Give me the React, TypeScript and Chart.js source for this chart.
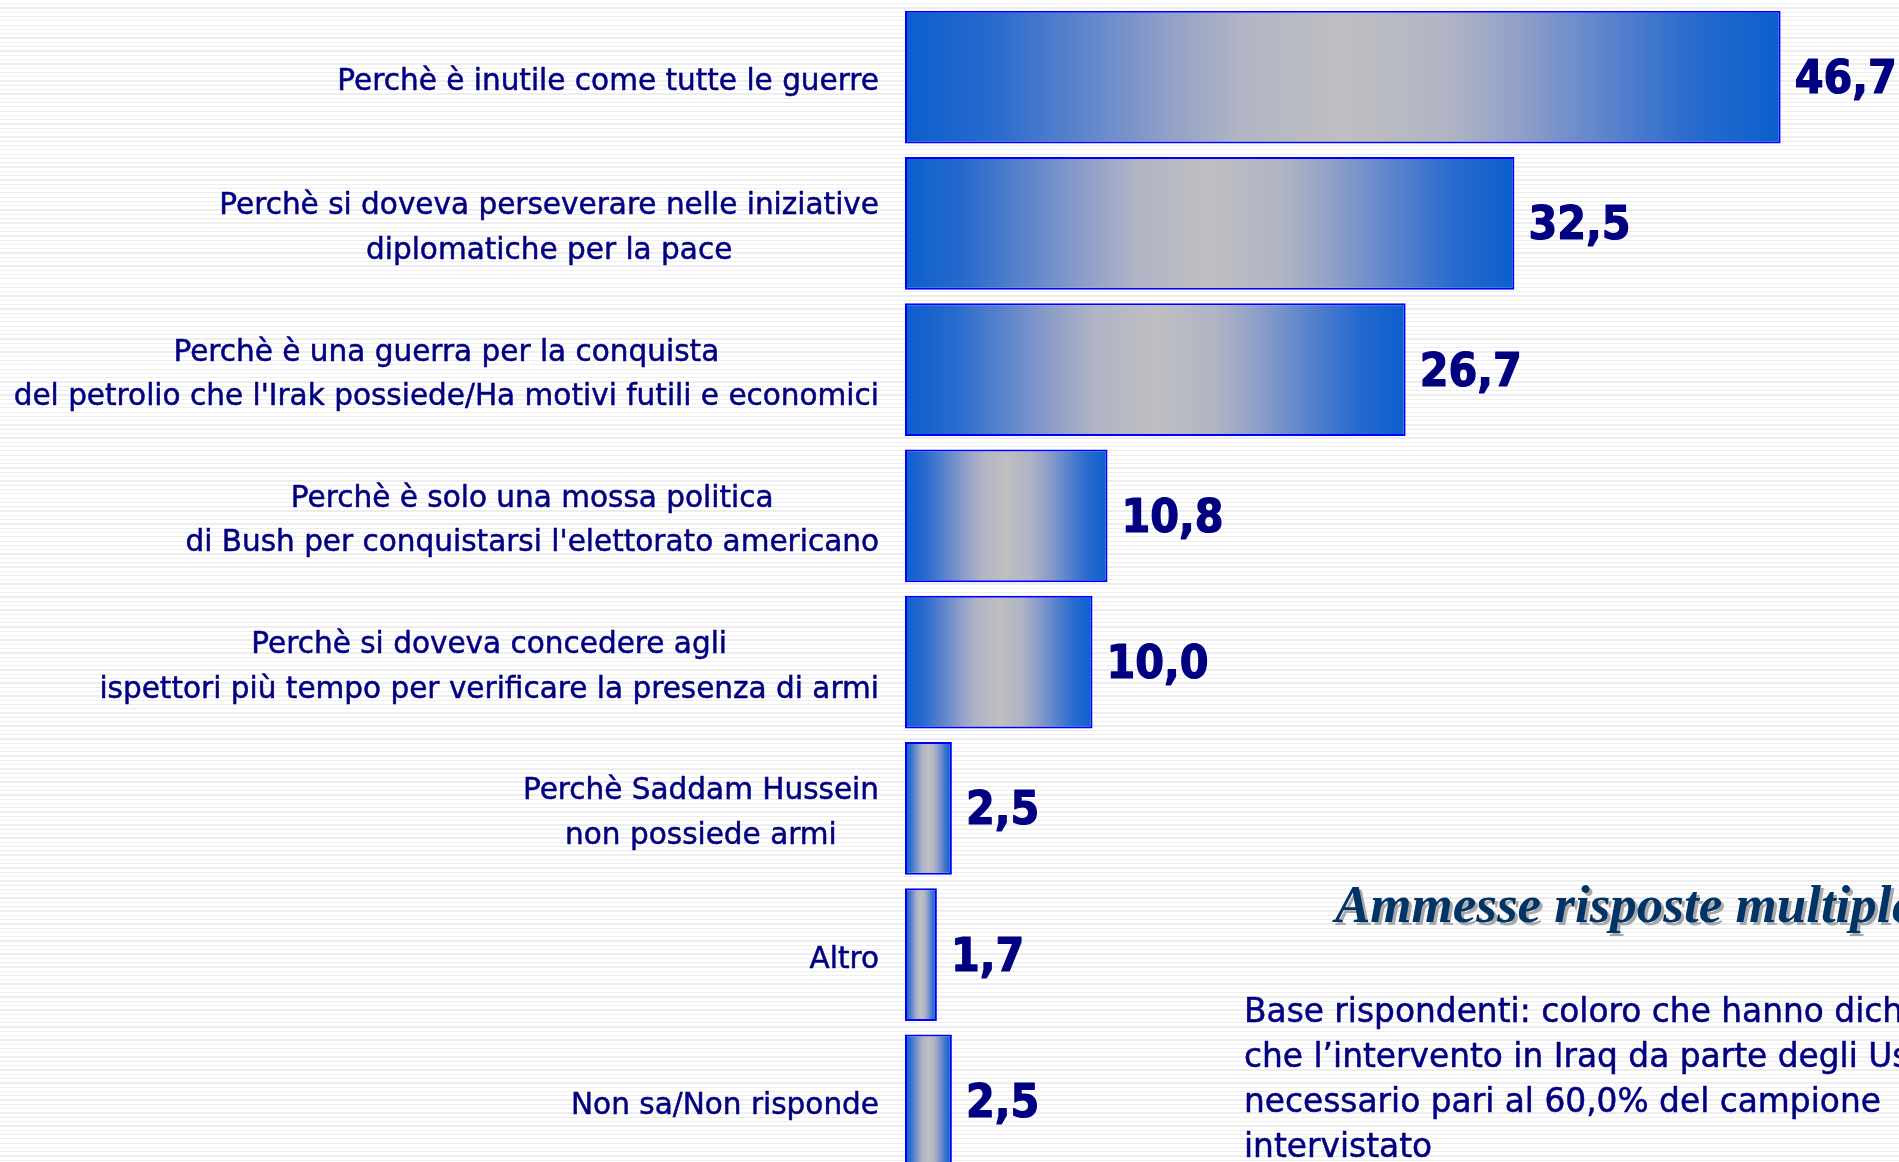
import React, { useEffect, useRef } from "react";
import { Chart, registerables } from "chart.js";

Chart.register(...registerables);

// ---- data ----
const categories: string[][] = [
  ["Perchè è inutile come tutte le guerre"],
  ["Perchè si doveva perseverare nelle iniziative", "diplomatiche per la pace"],
  ["Perchè è una guerra per la conquista", "del petrolio che l'Irak possiede/Ha motivi futili e economici"],
  ["Perchè è solo una mossa politica", "di Bush per conquistarsi l'elettorato americano"],
  ["Perchè si doveva concedere agli", "ispettori più tempo per verificare la presenza di armi"],
  ["Perchè Saddam Hussein", "non possiede armi"],
  ["Altro"],
  ["Non sa/Non risponde"],
];
const values: number[] = [46.7, 32.5, 26.7, 10.8, 10.0, 2.5, 1.7, 2.5];
const noteTitle = "Ammesse risposte multiple";
const noteLines: string[] = [
  "Base rispondenti: coloro che hanno dichiarato",
  "che l’intervento in Iraq da parte degli Usa non era",
  "necessario pari al 60,0% del campione",
  "intervistato",
];

const NAVY = "#000080";
const LABEL_FONT = "'DejaVu Sans', Verdana, sans-serif";
const VALUE_FONT = "'DejaVu Sans Condensed', 'DejaVu Sans', sans-serif";

const fmt = (v: number) => v.toFixed(1).replace(".", ",");

const gradientStops: [number, string][] = [
  [0, "rgb(10,95,205)"],
  [0.1, "rgb(40,106,206)"],
  [0.2, "rgb(92,132,204)"],
  [0.3, "rgb(145,160,200)"],
  [0.38, "rgb(176,180,196)"],
  [0.5, "rgb(191,191,193)"],
  [0.62, "rgb(176,180,196)"],
  [0.7, "rgb(145,160,200)"],
  [0.8, "rgb(92,132,204)"],
  [0.9, "rgb(40,106,206)"],
  [1, "rgb(10,95,205)"],
];

function fitSize(ctx: CanvasRenderingContext2D, family: string, text: string, target: number, weight = "") {
  ctx.font = `${weight} 100px ${family}`;
  const w = ctx.measureText(text).width;
  return (100 * target) / w;
}

const textPlugin = {
  id: "textPlugin",
  afterDraw(chart: any) {
    const ctx: CanvasRenderingContext2D = chart.ctx;
    const ys = chart.scales.y;
    const xs = chart.scales.x;
    ctx.save();
    ctx.lineJoin = "round";

    // category labels
    const labelSize = fitSize(ctx, LABEL_FONT, categories[2][1], 866);
    ctx.font = `${labelSize}px ${LABEL_FONT}`;
    ctx.fillStyle = NAVY;
    ctx.strokeStyle = NAVY;
    ctx.lineWidth = 0.5;
    ctx.textAlign = "center";
    ctx.textBaseline = "alphabetic";
    const cap = labelSize * 0.73;
    const lineGap = 44.5;
    const rightEdge = 879;
    categories.forEach((lines, i) => {
      const cy = ys.getPixelForValue(i) + 2.5;
      const maxW = Math.max(...lines.map((l) => ctx.measureText(l).width));
      const cx = rightEdge - maxW / 2;
      const n = lines.length;
      lines.forEach((l, j) => {
        const mid = cy + (j - (n - 1) / 2) * lineGap;
        ctx.fillText(l, cx, mid + cap / 2);
        ctx.strokeText(l, cx, mid + cap / 2);
      });
    });

    // value labels
    ctx.font = `bold 46px ${VALUE_FONT}`;
    ctx.textAlign = "left";
    ctx.lineWidth = 1.2;
    values.forEach((v, i) => {
      const cy = ys.getPixelForValue(i);
      const x = xs.getPixelForValue(v) + 14;
      ctx.fillText(fmt(v), x, cy + 16);
      ctx.strokeText(fmt(v), x, cy + 16);
    });

    // note title with shadow
    ctx.font = `italic bold 53px 'Liberation Serif', 'Times New Roman', serif`;
    ctx.fillStyle = "#a8a8a8";
    ctx.fillText(noteTitle, 1338, 925);
    ctx.fillStyle = "#003366";
    ctx.fillText(noteTitle, 1335, 922);

    // note body
    const bodySize = fitSize(ctx, LABEL_FONT, noteLines[2], 637);
    ctx.font = `${bodySize}px ${LABEL_FONT}`;
    ctx.fillStyle = NAVY;
    ctx.strokeStyle = NAVY;
    ctx.lineWidth = 0.5;
    noteLines.forEach((l, j) => {
      ctx.fillText(l, 1244, 1021.7 + j * 45);
      ctx.strokeText(l, 1244, 1021.7 + j * 45);
    });

    ctx.restore();
  },
};

export default function App() {
  const ref = useRef<HTMLCanvasElement | null>(null);

  useEffect(() => {
    document.body.style.margin = "0";
    const canvas = ref.current!;
    const chart = new Chart(canvas, {
      type: "bar",
      data: {
        labels: categories.map((c) => c.join(" ")),
        datasets: [
          {
            data: values,
            backgroundColor: (c: any) => {
              const ch = c.chart;
              const xs = ch.scales?.x;
              if (c.type !== "data" || !ch.chartArea || !xs) return "rgb(120,150,200)";
              const x0 = xs.getPixelForValue(0);
              const x1 = xs.getPixelForValue(values[c.dataIndex]);
              const g = ch.ctx.createLinearGradient(x0, 0, x1, 0);
              gradientStops.forEach(([o, col]) => g.addColorStop(o, col));
              return g;
            },
            borderColor: "#0000FF",
            borderWidth: 2,
            borderSkipped: false,
            barPercentage: 0.907,
            categoryPercentage: 1.0,
          },
        ],
      },
      options: {
        indexAxis: "y",
        animation: false,
        responsive: false,
        maintainAspectRatio: false,
        layout: { padding: { left: 905, right: 19, top: 4, bottom: 0 } },
        scales: {
          x: { display: false, min: 0, max: 52, grid: { display: false } },
          y: { display: false, grid: { display: false } },
        },
        plugins: {
          legend: { display: false },
          tooltip: { enabled: false },
        },
      },
      plugins: [textPlugin],
    } as any);
    return () => chart.destroy();
  }, []);

  return (
    <div
      style={{
        position: "fixed",
        left: 0,
        top: 0,
        width: 1899,
        height: 1162,
        overflow: "hidden",
        background:
          "repeating-linear-gradient(to bottom, #ffffff 0px, #ffffff 3px, #ededed 3px, #ededed 4.3px)",
      }}
    >
      <canvas ref={ref} width={1899} height={1174} style={{ display: "block" }} />
    </div>
  );
}
